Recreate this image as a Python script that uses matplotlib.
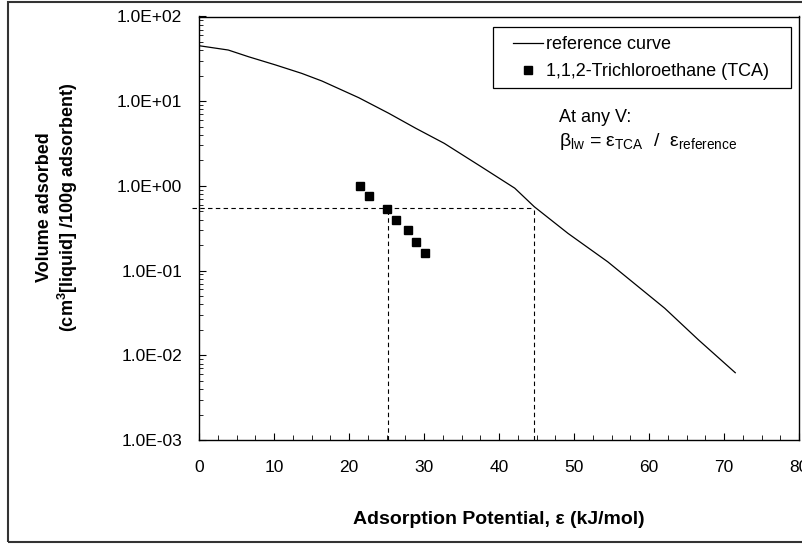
import matplotlib
matplotlib.use("Agg")
import matplotlib.pyplot as plt
from matplotlib.ticker import FuncFormatter, MultipleLocator, LogLocator, NullFormatter
from matplotlib.patches import Rectangle

plt.rcParams['font.family'] = ['Liberation Sans', 'DejaVu Sans']
plt.rcParams['mathtext.fontset'] = 'custom'
plt.rcParams['mathtext.rm'] = 'Liberation Sans'
plt.rcParams['mathtext.it'] = 'Liberation Sans'
plt.rcParams['mathtext.bf'] = 'Liberation Sans:bold'

# reference curve (adsorption potential kJ/mol, volume cm3/100g)
ref_eps = [0.0, 3.9, 6.6, 10.2, 13.7, 16.4, 21.3, 25.3, 28.9, 32.7, 37.6,
           42.1, 44.7, 49.2, 54.5, 62.1, 66.6, 71.5]
ref_vol = [45.2, 40.2, 33.5, 26.8, 21.3, 17.3, 11.0, 7.2, 4.79, 3.18, 1.69,
           0.94, 0.568, 0.275, 0.127, 0.0359, 0.0152, 0.00623]

# 1,1,2-Trichloroethane points
tca_eps = [21.45, 22.7, 25.06, 26.3, 27.87, 28.94, 30.19]
tca_vol = [0.99, 0.77, 0.54, 0.40, 0.30, 0.22, 0.16]

# guide lines at equal volume
v_level = 0.55
eps_tca_at_v = 25.2
eps_ref_at_v = 44.7

W, H = 802, 544
fig = plt.figure(figsize=(W/100, H/100), dpi=100)
ax = fig.add_axes([199/W, 1-440/H, 600/W, 423.5/H])

ax.plot(ref_eps, ref_vol, color='black', lw=0.9, label='reference curve')
ax.plot(tca_eps, tca_vol, ls='none', marker='s', ms=6, color='black',
        label='1,1,2-Trichloroethane (TCA)')

dash = dict(color='black', lw=0.8, ls=(0, (4, 3)))
ax.plot([-1, eps_ref_at_v], [v_level, v_level], clip_on=False, **dash)
ax.plot([eps_tca_at_v, eps_tca_at_v], [1e-3, v_level], **dash)
ax.plot([eps_ref_at_v, eps_ref_at_v], [1e-3, v_level], **dash)

ax.set_yscale('log')
ax.set_xlim(0, 80)
ax.set_ylim(1e-3, 1e2)
ax.xaxis.set_major_locator(MultipleLocator(10))
ax.xaxis.set_minor_locator(MultipleLocator(2.5))
ax.yaxis.set_major_locator(LogLocator(base=10))
ax.yaxis.set_minor_locator(LogLocator(base=10, subs=range(2, 10)))
ax.yaxis.set_minor_formatter(NullFormatter())
ax.yaxis.set_major_formatter(FuncFormatter(lambda v, p: '%.1E' % v))

ax.tick_params(which='both', direction='in', labelsize=12.5, colors='black')
ax.tick_params(axis='y', which='major', length=5, pad=12)
ax.tick_params(axis='y', which='minor', length=3)
ax.tick_params(axis='x', which='major', length=5, pad=14.5)
ax.tick_params(axis='x', which='minor', length=3.5)
for s in ax.spines.values():
    s.set_linewidth(1.0)

ax.set_xlabel('Adsorption Potential, \u03b5 (kJ/mol)', fontsize=14,
              fontweight='bold', labelpad=26)

fig.text(58/W, 1-207/H,
         'Volume adsorbed\n(cm$^{\\mathbf{3}}$[liquid] /100g adsorbent)',
         rotation=90, ha='center', va='center', fontsize=13,
         fontweight='bold', linespacing=1.15)

leg = ax.legend(loc='upper left', bbox_to_anchor=(513/W, 1-36/H),
                bbox_transform=fig.transFigure, fontsize=13, frameon=False,
                handlelength=1.65, handletextpad=0.2, borderpad=0,
                labelspacing=0.55, borderaxespad=0)
fig.patches.append(Rectangle((493/W, 1-88/H), 298/W, 61/H,
                             transform=fig.transFigure, fill=False,
                             edgecolor='black', lw=0.9))

fig.text(559/W, 1-117/H, 'At any V:', fontsize=13, va='center')
fig.text(559/W, 1-141/H,
         r'$\beta_{\mathrm{lw}}$ = $\varepsilon_{\mathrm{TCA}}$  /  $\varepsilon_{\mathrm{reference}}$',
         fontsize=14, va='center')

fig.patches.append(Rectangle((8/W, 1-542/H), 1.0, 540/H,
                             transform=fig.transFigure, fill=False,
                             edgecolor='#333333', lw=1.5))

fig.savefig('out.png', dpi=100)
